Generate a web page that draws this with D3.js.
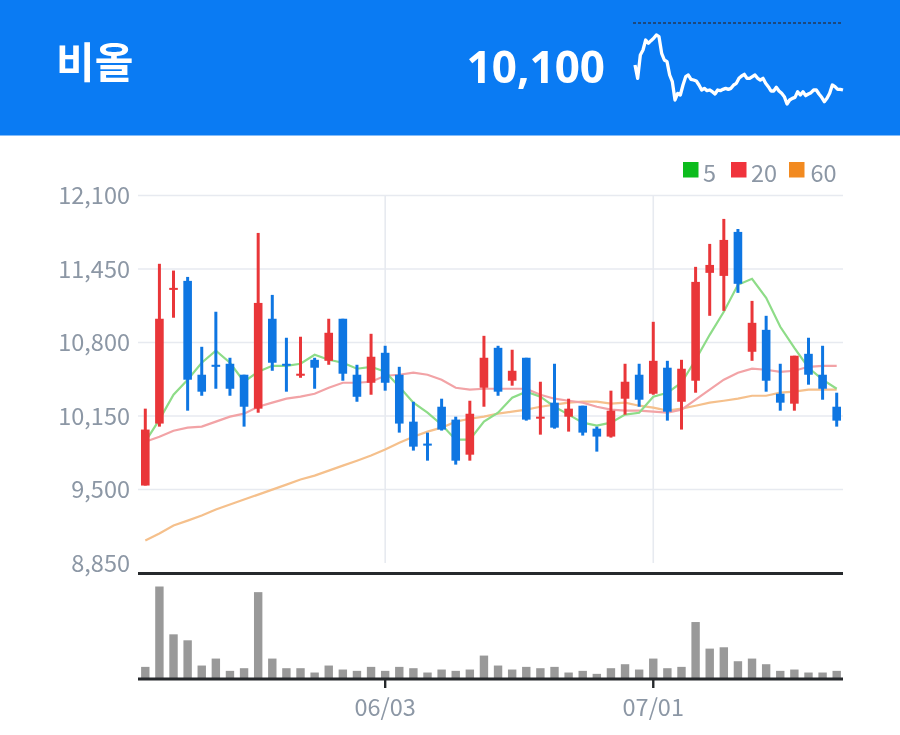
<!DOCTYPE html>
<html><head><meta charset="utf-8">
<script src="https://cdn.jsdelivr.net/npm/d3@7"></script>
<style>
html,body{margin:0;padding:0;background:#fff}
svg{display:block;filter:blur(0.45px)}
text{font-family:"Noto Sans CJK KR","Noto Sans",sans-serif}
</style></head><body>
<div id="chart"></div>
<script>
const stockName = "비올";
const lastPrice = "10,100";
const priceTicks = [12100, 11450, 10800, 10150, 9500, 8850];
const dateLabels = {17: "06/03", 36: "07/01"};
const maNames = ["5", "20", "60"];
const maColors = ["#0cbc1d", "#f0333c", "#f28a20"];
const maLineColors = ["#8edc88", "#f2a3a6", "#f5c08c"];

const opens = [9535,10083,11266,11345,10515,10603,10612,10515,10215,11010,10612,10506,10647,10638,11010,10515,10444,10709,10515,10100,9906,10232,10118,9808,10400,10753,10462,10665,10127,10268,10144,10241,10038,9968,10303,10515,10347,10577,10276,10462,11416,11389,11778,10718,10912,10347,10259,10700,10515,10232];
const highs = [10215,11496,11436,11380,10762,11072,10665,10515,11769,11221,10842,10851,10665,11010,11010,10603,10877,10771,10585,10276,10003,10303,10144,10285,10859,10771,10736,10665,10453,10612,10303,10241,10056,10374,10612,10612,10983,10638,10647,11469,11672,11893,11804,11168,11036,10612,10683,10842,10771,10356];
const lows = [9535,10056,11019,10197,10329,10391,10329,10056,10179,10550,10365,10488,10391,10603,10462,10276,10338,10374,10003,9844,9755,10021,9720,9755,10232,10329,10418,10109,9985,10038,10012,9977,9835,9959,10162,10232,10338,10109,10030,10356,11036,11080,11239,10638,10365,10197,10197,10427,10294,10056];
const closes = [10030,11010,11283,10471,10365,10585,10391,10232,11150,10621,10594,10524,10577,10886,10524,10320,10674,10444,10083,9879,9888,10030,9755,10170,10665,10365,10550,10118,10144,10047,10215,10003,9968,10197,10453,10294,10638,10188,10568,11336,11486,11707,11319,10974,10462,10268,10683,10515,10391,10109];
const volumes = [35,277,133,115,39,60,23,31,260,60,31,31,18,39,27,23,35,23,35,31,18,27,23,27,69,39,27,35,31,35,18,23,14,31,43,27,60,31,35,170,90,94,52,60,43,23,27,18,18,23];
const ma5 = [9923,10118,10338,10471,10621,10727,10621,10453,10541,10594,10594,10612,10692,10647,10621,10568,10585,10541,10409,10268,10179,10073,9941,9941,10100,10179,10312,10365,10321,10232,10162,10091,10065,10091,10162,10179,10321,10356,10444,10647,10868,11072,11310,11363,11195,10939,10753,10577,10471,10391];
const ma20 = [9923,9967,10020,10047,10056,10100,10144,10171,10232,10268,10303,10321,10347,10400,10444,10444,10453,10506,10515,10533,10515,10471,10400,10383,10391,10391,10391,10391,10338,10303,10285,10268,10232,10206,10197,10197,10188,10179,10206,10294,10383,10471,10533,10568,10559,10541,10550,10585,10594,10594];
const ma60 = [9049,9111,9181,9225,9270,9323,9367,9411,9455,9499,9543,9588,9623,9667,9711,9755,9800,9853,9914,9967,10012,10047,10100,10126,10144,10171,10188,10206,10232,10250,10268,10277,10277,10259,10268,10241,10224,10197,10215,10241,10268,10285,10303,10329,10329,10356,10365,10383,10383,10383];
const sparkline = [135,95,165,180,210,200,208,215,225,220,170,150,145,105,85,30,50,45,75,100,105,92,90,87,75,60,65,58,60,55,48,60,58,62,65,62,65,75,80,95,102,107,95,95,100,105,95,90,95,80,70,57,57,68,57,50,40,18,30,35,38,55,45,55,43,48,52,60,60,48,38,25,35,50,75,70,62,62,60];

const W = 900, H = 735;
const svg = d3.select("#chart").append("svg").attr("width", W).attr("height", H);
const idx = d3.range(opens.length);
const x = d3.scaleLinear().domain([0, opens.length - 1]).range([145.3, 836.7]);
const y = d3.scaleLinear().domain([8850, 12100]).range([563, 195.5]);
const yVol = d3.scaleLinear().domain([0, 277]).range([678.5, 586.5]);

// header
svg.append("rect").attr("x", -2).attr("y", -2).attr("width", W + 4).attr("height", 137.5).attr("fill", "#0a7bf3");
svg.append("text").attr("x", 56).attr("y", 78).attr("fill", "#fff")
  .attr("font-size", 42).attr("font-weight", 700).text(stockName);
svg.append("text").attr("x", 605).attr("y", 83).attr("text-anchor", "end").attr("fill", "#fff")
  .attr("font-size", 44).attr("font-weight", 700).style("font-family", '"Noto Sans"').text(lastPrice);
svg.append("line").attr("x1", 633).attr("x2", 843).attr("y1", 23).attr("y2", 23)
  .attr("stroke", "#243a5a").attr("stroke-width", 1.6).attr("stroke-dasharray", "3 2");
const xSpark = d3.scaleLinear().domain([0, sparkline.length - 1]).range([635, 843]);
const ySpark = d3.scaleLinear().domain([0, 300]).range([110, 10]);
svg.append("path").attr("d", d3.line().x((d, i) => xSpark(i)).y(d => ySpark(d))(sparkline))
  .attr("fill", "none").attr("stroke", "#fff").attr("stroke-width", 3.3).attr("stroke-linejoin", "round");

// grid
const gridC = "#e7eaf0";
svg.append("g").selectAll("line").data(priceTicks.slice(0, 5)).join("line")
  .attr("x1", 138).attr("x2", 843).attr("y1", d => y(d)).attr("y2", d => y(d))
  .attr("stroke", gridC).attr("stroke-width", 1.6);
svg.append("g").selectAll("line").data(Object.keys(dateLabels)).join("line")
  .attr("x1", d => x(+d)).attr("x2", d => x(+d)).attr("y1", 195.5).attr("y2", 563)
  .attr("stroke", gridC).attr("stroke-width", 1.6);

// price labels
svg.append("g").selectAll("text").data(priceTicks).join("text")
  .attr("x", 130).attr("y", d => y(d) + 8.5).attr("text-anchor", "end")
  .attr("fill", "#8c97a5").attr("font-size", 23.5).text(d => d3.format(",")(d));

// moving averages
[ma60, ma20, ma5].forEach((s, k) => {
  const c = [maLineColors[2], maLineColors[1], maLineColors[0]][k];
  svg.append("path").attr("d", d3.line().x((d, i) => x(i)).y(d => y(d))(s))
    .attr("fill", "none").attr("stroke", c).attr("stroke-width", 2.2);
});

// candles
const up = i => closes[i] >= opens[i];
const red = "#e93639", blue = "#0e76e2";
const gC = svg.append("g");
gC.selectAll("line").data(idx).join("line")
  .attr("x1", x).attr("x2", x).attr("y1", i => y(highs[i])).attr("y2", i => y(lows[i]))
  .attr("stroke", i => up(i) ? red : blue).attr("stroke-width", 3);
gC.selectAll("rect").data(idx).join("rect")
  .attr("x", i => x(i) - 4.3).attr("width", 8.6)
  .attr("y", i => y(Math.max(opens[i], closes[i])))
  .attr("height", i => Math.max(2, Math.abs(y(opens[i]) - y(closes[i]))))
  .attr("fill", i => up(i) ? red : blue);

// volume
svg.append("g").selectAll("rect").data(idx).join("rect")
  .attr("x", i => x(i) - 4.2).attr("width", 8.4)
  .attr("y", i => yVol(volumes[i])).attr("height", i => yVol(0) - yVol(volumes[i]))
  .attr("fill", "#999");

// axes lines
svg.append("line").attr("x1", 138).attr("x2", 843).attr("y1", 573.5).attr("y2", 573.5)
  .attr("stroke", "#26292c").attr("stroke-width", 3);
svg.append("line").attr("x1", 138).attr("x2", 843).attr("y1", 679).attr("y2", 679)
  .attr("stroke", "#26292c").attr("stroke-width", 2.8);
svg.append("g").selectAll("line").data(Object.keys(dateLabels)).join("line")
  .attr("x1", d => x(+d)).attr("x2", d => x(+d)).attr("y1", 679).attr("y2", 688)
  .attr("stroke", "#26292c").attr("stroke-width", 2.4);
svg.append("g").selectAll("text").data(Object.entries(dateLabels)).join("text")
  .attr("x", d => x(+d[0])).attr("y", 715.5).attr("text-anchor", "middle")
  .attr("fill", "#8c97a5").attr("font-size", 23.5).text(d => d[1]);

// legend
const lx = [683, 731, 789];
const ltx = [703, 751, 810.5];
maNames.forEach((n, i) => {
  svg.append("rect").attr("x", lx[i]).attr("y", 162).attr("width", 15.5).attr("height", 15.5).attr("fill", maColors[i]);
  svg.append("text").attr("x", ltx[i]).attr("y", 181.5).attr("fill", "#8c97a5").attr("font-size", 23.5).text(n);
});
</script>
</body></html>
